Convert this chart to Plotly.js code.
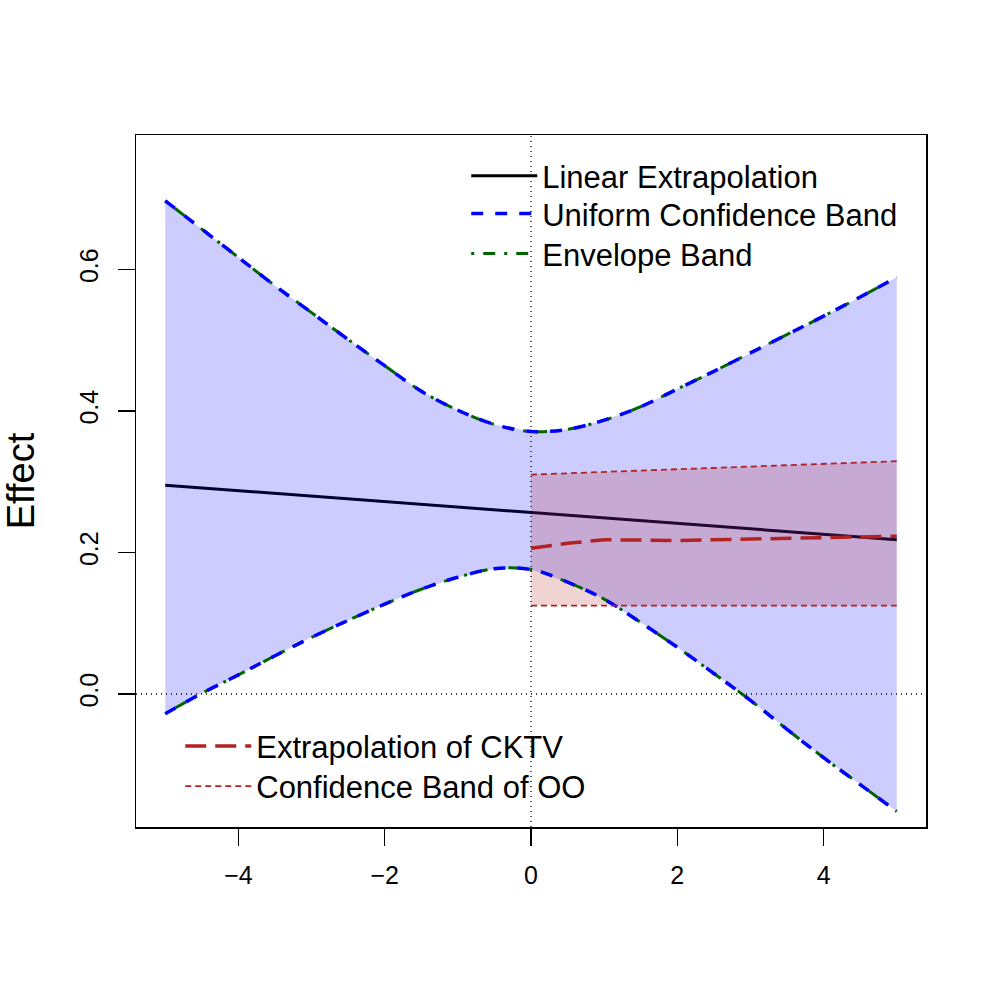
<!DOCTYPE html>
<html>
<head>
<meta charset="utf-8">
<script src="https://cdn.plot.ly/plotly-3.0.1.min.js"></script>
<style>html,body{margin:0;padding:0;background:#fff;}#plot{width:997px;height:997px;}</style>
</head>
<body>
<div id="plot"></div>
<script>
// ---- data ----
const bandX      = [-5, -4.5, -4, -3.5, -3, -2.5, -2, -1.5, -1, -0.5, 0, 0.5, 1, 1.5, 2, 2.5, 3, 3.5, 4, 4.5, 5];
const uniformUpper = [0.697, 0.657, 0.617, 0.577, 0.539, 0.501, 0.464, 0.428, 0.401, 0.381, 0.371, 0.374, 0.387, 0.406, 0.431, 0.456, 0.482, 0.508, 0.534, 0.561, 0.589];
const uniformLower = [-0.028, 0.001, 0.027, 0.054, 0.080, 0.104, 0.127, 0.148, 0.165, 0.177, 0.176, 0.158, 0.134, 0.101, 0.066, 0.029, -0.009, -0.050, -0.090, -0.128, -0.166];
const envelopeUpper = [0.697, 0.657, 0.617, 0.577, 0.539, 0.501, 0.464, 0.428, 0.401, 0.381, 0.371, 0.374, 0.387, 0.406, 0.431, 0.456, 0.482, 0.508, 0.534, 0.561, 0.589];
const envelopeLower = [-0.028, 0.001, 0.027, 0.054, 0.080, 0.104, 0.127, 0.148, 0.165, 0.177, 0.176, 0.158, 0.134, 0.101, 0.066, 0.029, -0.009, -0.050, -0.090, -0.128, -0.166];

const linearX = [-5, 0, 5];
const linearY = [0.295, 0.257, 0.218];

const cktvX = [0, 0.5, 1, 2, 3, 4, 5];
const cktvY = [0.206, 0.213, 0.218, 0.217, 0.219, 0.221, 0.223];

const ooX = [0, 5];
const ooUpper = [0.310, 0.329];
const ooLower = [0.125, 0.125];

const xTicks = [-4, -2, 0, 2, 4];
const yTicks = [0.0, 0.2, 0.4, 0.6];

const labels = {
  linear: "Linear Extrapolation",
  uniform: "Uniform Confidence Band",
  envelope: "Envelope Band",
  cktv: "Extrapolation of CKTV",
  oo: "Confidence Band of OO",
  yTitle: "Effect"
};

// ---- build polygons from the arrays ----
const polyX = (x) => x.concat(x.slice().reverse());
const polyY = (u, l) => u.concat(l.slice().reverse());

const FONT = "Liberation Sans, Arial, Helvetica, sans-serif";
const BLUE = "#0000ff", GREEN = "#006400", RED = "#b22222";

const traces = [
  {x: linearX, y: linearY, mode: "lines", name: labels.linear, legend: "legend",
   line: {color: "#000000", width: 3}},
  {x: polyX(bandX), y: polyY(uniformUpper, uniformLower), mode: "none", fill: "toself",
   fillcolor: "rgba(0,0,255,0.2)", showlegend: false, hoverinfo: "skip"},
  {x: polyX(ooX), y: polyY(ooUpper, ooLower), mode: "none", fill: "toself",
   fillcolor: "rgba(178,34,34,0.2)", showlegend: false, hoverinfo: "skip"},
  {x: bandX, y: envelopeUpper, mode: "lines", name: labels.envelope, legend: "legend3", legendgroup: "e",
   line: {color: GREEN, width: 3, dash: "3px,9px,12px,9px", shape: "spline"}},
  {x: bandX, y: envelopeLower, mode: "lines", name: labels.envelope, legendgroup: "e", showlegend: false,
   line: {color: GREEN, width: 3, dash: "3px,9px,12px,9px", shape: "spline"}},
  {x: bandX, y: uniformUpper, mode: "lines", name: labels.uniform, legend: "legend2", legendgroup: "u",
   line: {color: BLUE, width: 3.5, dash: "12px,12px", shape: "spline"}},
  {x: bandX, y: uniformLower, mode: "lines", name: labels.uniform, legendgroup: "u", showlegend: false,
   line: {color: BLUE, width: 3.5, dash: "12px,12px", shape: "spline"}},
  {x: cktvX, y: cktvY, mode: "lines", name: labels.cktv, legend: "legend4",
   line: {color: RED, width: 3.5, dash: "21px,9px"}},
  {x: ooX, y: ooUpper, mode: "lines", name: labels.oo, legend: "legend5", legendgroup: "oo",
   line: {color: RED, width: 1.8, dash: "6px,4px"}},
  {x: ooX, y: ooLower, mode: "lines", name: labels.oo, legendgroup: "oo", showlegend: false,
   line: {color: RED, width: 1.8, dash: "6px,4px"}}
];

const legendStyle = (x, y) => ({
  x: x, y: y, xanchor: "left", yanchor: "top", bgcolor: "rgba(0,0,0,0)", borderwidth: 0,
  font: {size: 31, family: FONT}, itemwidth: 66, tracegroupgap: 0
});

const layout = {
  width: 997, height: 997,
  margin: {l: 136, r: 71, t: 135, b: 170},
  paper_bgcolor: "#ffffff", plot_bgcolor: "#ffffff",
  font: {family: FONT, color: "#000000", size: 25},
  showlegend: true,
  xaxis: {
    range: [-5.4, 5.4], tickvals: xTicks, ticks: "outside", ticklen: 17, tickwidth: 1.5, tickcolor: "#000",
    showline: true, linecolor: "#000", linewidth: 1.5, mirror: true,
    showgrid: false, zeroline: false, tickfont: {size: 25, family: FONT}, ticklabelstandoff: 8
  },
  yaxis: {
    range: [-0.188, 0.790], tickvals: yTicks, tickformat: ".1f", ticks: "outside", ticklen: 17, tickwidth: 1.5, tickcolor: "#000",
    showline: true, linecolor: "#000", linewidth: 1.5, mirror: true, tickangle: -90,
    showgrid: false, zeroline: false, tickfont: {size: 25, family: FONT}, ticklabelstandoff: 10,
    title: {text: labels.yTitle, font: {size: 38, family: FONT}, standoff: 28}
  },
  legend:  legendStyle(0.418, 0.9798),
  legend2: legendStyle(0.418, 0.9249),
  legend3: legendStyle(0.418, 0.8671),
  legend4: legendStyle(0.056, 0.1554),
  legend5: legendStyle(0.056, 0.0975),
  shapes: [
    {type: "line", xref: "x", yref: "paper", x0: 0, x1: 0, y0: 0, y1: 1,
     line: {color: "#000", width: 1.3, dash: "1px,4px"}, layer: "above"},
    {type: "line", xref: "paper", yref: "y", x0: 0, x1: 1, y0: 0, y1: 0,
     line: {color: "#000", width: 1.3, dash: "1px,4px"}, layer: "above"}
  ]
};

Plotly.newPlot("plot", traces, layout, {staticPlot: true, displayModeBar: false});
</script>
</body>
</html>
